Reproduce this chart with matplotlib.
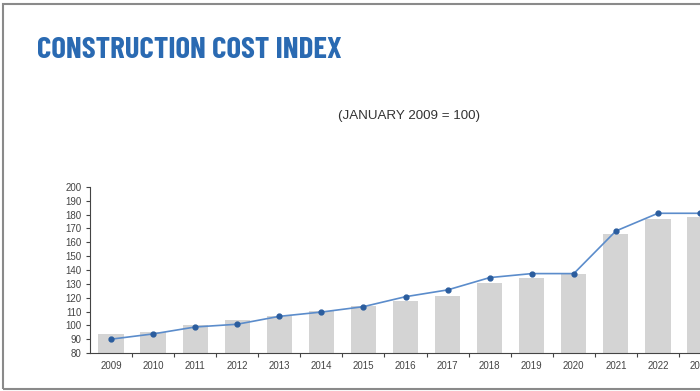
import numpy as np
import matplotlib.pyplot as plt
from matplotlib.patches import Rectangle

TITLE_COLOUR = '#2a6ab2'
BAR_COLOUR = '#d4d4d4'
LINE_COLOUR = '#5b8ccb'
MARKER_COLOUR = '#2b5d9e'
TEXT_COLOUR = '#444444'
TICK_FONT = ['Liberation Sans', 'DejaVu Sans']

# data
years = ['2009', '2010', '2011', '2012', '2013', '2014', '2015', '2016',
         '2017', '2018', '2019', '2020', '2021', '2022', '2023']
bar_values = [94, 95.5, 100, 104, 106.7, 110.6, 114, 117.8,
              121.2, 130.8, 134, 136.9, 165.8, 176.9, 178.6]
line_values = [90, 93.8, 98.8, 100.8, 106.5, 109.6, 113.5, 120.7,
               125.6, 134.5, 137.4, 137.4, 168.2, 181, 181]
y_ticks = list(range(80, 201, 10))

fig = plt.figure(figsize=(7, 3.91), dpi=100)
fig.set_facecolor('white')

# frame around the picture (cut off on the right)
fig.patches.append(Rectangle((3 / 700, 2 / 391), 720 / 700, 385 / 391,
                             transform=fig.transFigure, fill=False,
                             edgecolor='#8a8a8a', linewidth=1.5))

fig.text(37 / 700, 1 - 50 / 391, 'CONSTRUCTION COST INDEX',
         family=['Barlow Condensed', 'Roboto Condensed', 'DejaVu Sans'],
         fontweight='bold', fontsize=22.3, color=TITLE_COLOUR,
         ha='left', va='center')
fig.text(409 / 700, 1 - 116 / 391, '(JANUARY 2009 = 100)',
         family=TICK_FONT, fontsize=9.6, color='#333333',
         ha='center', va='center')

ax = fig.add_axes([90 / 700, 38 / 391, 610 / 700, 166 / 391])
x = np.arange(len(years))
ax.bar(x, np.array(bar_values) - 80, bottom=80, width=0.6,
       color=BAR_COLOUR, zorder=1)
ax.plot(x, line_values, color=LINE_COLOUR, linewidth=1.2, zorder=2)
ax.plot(x, line_values, linestyle='none', marker='o', markersize=3.5,
        color=MARKER_COLOUR, zorder=3)

ax.set_xlim(-0.5, 13.76)
ax.set_ylim(80, 200)
ax.set_yticks(y_ticks)
ax.set_yticklabels([str(v) for v in y_ticks])
ax.set_xticks(x)
ax.set_xticklabels(years)
ax.set_xticks(x[:-1] + 0.5, minor=True)
ax.tick_params(axis='x', which='major', length=0, pad=6,
               labelsize=7, labelcolor=TEXT_COLOUR)
ax.tick_params(axis='x', which='minor', length=3, width=0.8,
               color='#444444')
ax.tick_params(axis='y', length=3, width=0.8, pad=3,
               labelsize=7, labelcolor=TEXT_COLOUR, color='#444444')
for lab in ax.get_xticklabels() + ax.get_yticklabels():
    lab.set_family(TICK_FONT)

for side in ['top', 'right']:
    ax.spines[side].set_visible(False)
for side in ['left', 'bottom']:
    ax.spines[side].set_color('#444444')
    ax.spines[side].set_linewidth(0.8)

fig.savefig('out.png', dpi=100)
